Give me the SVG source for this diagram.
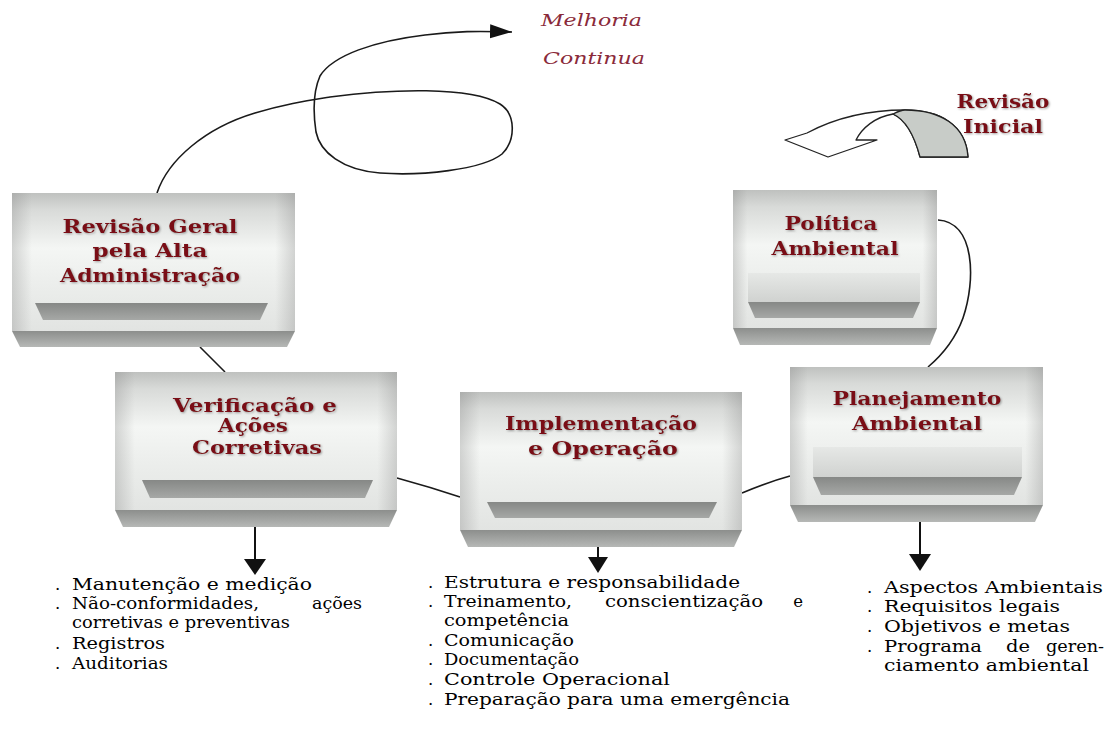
<svg xmlns="http://www.w3.org/2000/svg" width="1118" height="731" viewBox="0 0 1118 731">
<style>
.title{font-family:"DejaVu Serif","Liberation Serif",serif;font-weight:bold;font-size:19px;fill:#7a1014;text-anchor:middle;filter:url(#sh)}
.item{font-family:"DejaVu Serif","Liberation Serif",serif;font-size:16.5px;fill:#000}
.mc{font-family:"DejaVu Serif","Liberation Serif",serif;font-style:italic;font-size:16px;fill:#8a2a3a}
.box{fill:url(#gBox)}
.side{fill:url(#gSide)}
.shelf{fill:url(#gShelf)}
.slab{fill:url(#gSlab)}
.inner{fill:url(#gInner)}
.conn{fill:none;stroke:#1a1a1a;stroke-width:1.6}
.down{stroke:#111;stroke-width:2}
.head{fill:#111}
</style>
<defs>
<linearGradient id="gBox" x1="0" y1="0" x2="0" y2="1">
<stop offset="0" stop-color="#bfc1bf"/><stop offset="0.12" stop-color="#d8dad8"/><stop offset="0.4" stop-color="#f4f6f4"/><stop offset="0.65" stop-color="#eceeec"/><stop offset="1" stop-color="#e2e4e2"/>
</linearGradient>
<linearGradient id="gSide" x1="0" y1="0" x2="1" y2="0">
<stop offset="0" stop-color="#808080" stop-opacity="0.3"/><stop offset="0.07" stop-color="#808080" stop-opacity="0"/><stop offset="0.93" stop-color="#808080" stop-opacity="0"/><stop offset="1" stop-color="#808080" stop-opacity="0.3"/>
</linearGradient>
<linearGradient id="gShelf" x1="0" y1="0" x2="0" y2="1">
<stop offset="0" stop-color="#868886"/><stop offset="1" stop-color="#a6a8a6"/>
</linearGradient>
<linearGradient id="gSlab" x1="0" y1="0" x2="0" y2="1">
<stop offset="0" stop-color="#8c8e8c"/><stop offset="1" stop-color="#b6b8b6"/>
</linearGradient>
<linearGradient id="gInner" x1="0" y1="0" x2="0" y2="1">
<stop offset="0" stop-color="#e6e8e6"/><stop offset="1" stop-color="#d0d2d0"/>
</linearGradient>
<filter id="sh" x="-10%" y="-30%" width="120%" height="160%">
<feDropShadow dx="1" dy="1" stdDeviation="0.8" flood-color="#777" flood-opacity="0.7"/>
</filter>
<marker id="arr" markerWidth="24" markerHeight="16" refX="22" refY="8" orient="auto" markerUnits="userSpaceOnUse">
<path d="M0,1 L22,8 L0,15 Z" fill="#111"/>
</marker>
</defs>

<g id="connectors">
<path class="conn" marker-end="url(#arr)" d="M157,193 C168,160 205,128 255,113 C285,104 305,101 330,97 C390,89 470,86 500,104 C516,114 516,140 502,154 C482,170 420,176 380,173 C342,170 320,152 316,132 C313,112 313,92 320,76 C333,55 375,41 425,35 C455,31 478,31 512,32"/>
<path class="conn" d="M200,347 L225,372"/>
<path class="conn" d="M397,478 Q430,487 460,497"/>
<path class="conn" d="M742,493 Q768,482 790,476"/>
<path class="conn" d="M938,220 C975,222 976,280 963,318 C955,340 941,356 928,367"/>
<line class="down" x1="255" y1="527" x2="255" y2="561"/>
<polygon class="head" points="244,559 266,559 255,575"/>
<line class="down" x1="598" y1="547" x2="598" y2="560"/>
<polygon class="head" points="588,557 608,557 598,573"/>
<line class="down" x1="920" y1="522" x2="920" y2="556"/>
<polygon class="head" points="909,554 931,554 920,571"/>
</g>

<g id="revisao-inicial">
<path d="M968,157 C966,125 940,110 905,110 C870,110 835,118 807,133 L785,140 L828,157 L877,140 L856,140 C862,128 875,117 893,114 C906,120 915,138 920,157 Z" fill="#ffffff" stroke="#222" stroke-width="1.3" stroke-linejoin="round"/>
<path d="M905,110 C940,110 966,125 968,157 L920,157 C915,138 906,120 893,114 C897,112 901,110 905,110 Z" fill="#c8ccc8" stroke="#222" stroke-width="1.3" stroke-linejoin="round"/>
<text class="title" x="1003" y="108" textLength="93" lengthAdjust="spacingAndGlyphs">Revisão</text>
<text class="title" x="1003" y="133" textLength="80" lengthAdjust="spacingAndGlyphs">Inicial</text>
</g>

<g id="melhoria-continua">
<text class="mc" x="541" y="26" textLength="101" lengthAdjust="spacingAndGlyphs">Melhoria</text>
<text class="mc" x="543" y="64" textLength="102" lengthAdjust="spacingAndGlyphs">Continua</text>
</g>

<g id="revisao-geral">
<rect class="box" x="12" y="193" width="283" height="138"/>
<rect class="side" x="12" y="193" width="283" height="138"/>
<polygon class="shelf" points="35,303 268,303 260,320 43,320"/>
<polygon class="slab" points="12,331 295,331 287,347 20,347"/>
<text class="title" x="150" y="233" textLength="175" lengthAdjust="spacingAndGlyphs">Revisão Geral</text>
<text class="title" x="150" y="257" textLength="115" lengthAdjust="spacingAndGlyphs">pela Alta</text>
<text class="title" x="150" y="282" textLength="180" lengthAdjust="spacingAndGlyphs">Administração</text>
</g>

<g id="politica">
<rect class="box" x="733" y="190" width="204" height="138"/>
<rect class="side" x="733" y="190" width="204" height="138"/>
<rect class="inner" x="748" y="273" width="172" height="29"/>
<polygon class="shelf" points="748,302 920,302 913,318 755,318"/>
<polygon class="slab" points="733,328 937,328 930,345 740,345"/>
<text class="title" x="831" y="230" textLength="93" lengthAdjust="spacingAndGlyphs">Política</text>
<text class="title" x="835" y="255" textLength="127" lengthAdjust="spacingAndGlyphs">Ambiental</text>
</g>

<g id="verificacao">
<rect class="box" x="115" y="372" width="282" height="138"/>
<rect class="side" x="115" y="372" width="282" height="138"/>
<polygon class="shelf" points="142,480 373,480 365,498 150,498"/>
<polygon class="slab" points="115,510 397,510 389,527 123,527"/>
<text class="title" x="255" y="412" textLength="164" lengthAdjust="spacingAndGlyphs">Verificação e</text>
<text class="title" x="253" y="432" textLength="70" lengthAdjust="spacingAndGlyphs">Ações</text>
<text class="title" x="257" y="454" textLength="130" lengthAdjust="spacingAndGlyphs">Corretivas</text>
</g>

<g id="implementacao">
<rect class="box" x="460" y="392" width="282" height="138"/>
<rect class="side" x="460" y="392" width="282" height="138"/>
<polygon class="shelf" points="487,502 717,502 709,518 495,518"/>
<polygon class="slab" points="460,530 742,530 734,547 468,547"/>
<text class="title" x="601" y="430" textLength="192" lengthAdjust="spacingAndGlyphs">Implementação</text>
<text class="title" x="603" y="455" textLength="150" lengthAdjust="spacingAndGlyphs">e Operação</text>
</g>

<g id="planejamento">
<rect class="box" x="790" y="367" width="253" height="138"/>
<rect class="side" x="790" y="367" width="253" height="138"/>
<rect class="inner" x="813" y="447" width="209" height="30"/>
<polygon class="shelf" points="813,477 1022,477 1014,495 821,495"/>
<polygon class="slab" points="790,505 1043,505 1035,522 798,522"/>
<text class="title" x="917" y="405" textLength="169" lengthAdjust="spacingAndGlyphs">Planejamento</text>
<text class="title" x="917" y="430" textLength="130" lengthAdjust="spacingAndGlyphs">Ambiental</text>
</g>

<g id="lista-verificacao">
<text class="item" x="55" y="590">.</text>
<text class="item" x="72" y="590" textLength="240" lengthAdjust="spacingAndGlyphs">Manutenção e medição</text>
<text class="item" x="55" y="609">.</text>
<text class="item" x="72" y="609" textLength="187" lengthAdjust="spacingAndGlyphs">Não-conformidades,</text>
<text class="item" x="362" y="609" text-anchor="end" textLength="50" lengthAdjust="spacingAndGlyphs">ações</text>
<text class="item" x="72" y="628" textLength="218" lengthAdjust="spacingAndGlyphs">corretivas e preventivas</text>
<text class="item" x="55" y="649">.</text>
<text class="item" x="72" y="649" textLength="93" lengthAdjust="spacingAndGlyphs">Registros</text>
<text class="item" x="55" y="669">.</text>
<text class="item" x="72" y="669" textLength="96" lengthAdjust="spacingAndGlyphs">Auditorias</text>
</g>

<g id="lista-implementacao">
<text class="item" x="428" y="588">.</text>
<text class="item" x="444" y="588" textLength="296" lengthAdjust="spacingAndGlyphs">Estrutura e responsabilidade</text>
<text class="item" x="428" y="607">.</text>
<text class="item" x="444" y="607" textLength="128" lengthAdjust="spacingAndGlyphs">Treinamento,</text>
<text class="item" x="605" y="607" textLength="158" lengthAdjust="spacingAndGlyphs">conscientização</text>
<text class="item" x="803" y="607" text-anchor="end">e</text>
<text class="item" x="444" y="626" textLength="125" lengthAdjust="spacingAndGlyphs">competência</text>
<text class="item" x="428" y="646">.</text>
<text class="item" x="444" y="646" textLength="130" lengthAdjust="spacingAndGlyphs">Comunicação</text>
<text class="item" x="428" y="665">.</text>
<text class="item" x="444" y="665" textLength="135" lengthAdjust="spacingAndGlyphs">Documentação</text>
<text class="item" x="428" y="685">.</text>
<text class="item" x="444" y="685" textLength="226" lengthAdjust="spacingAndGlyphs">Controle Operacional</text>
<text class="item" x="428" y="705">.</text>
<text class="item" x="444" y="705" textLength="346" lengthAdjust="spacingAndGlyphs">Preparação para uma emergência</text>
</g>

<g id="lista-planejamento">
<text class="item" x="867" y="593">.</text>
<text class="item" x="884" y="593" textLength="219" lengthAdjust="spacingAndGlyphs">Aspectos Ambientais</text>
<text class="item" x="867" y="612">.</text>
<text class="item" x="884" y="612" textLength="176" lengthAdjust="spacingAndGlyphs">Requisitos legais</text>
<text class="item" x="867" y="632">.</text>
<text class="item" x="884" y="632" textLength="186" lengthAdjust="spacingAndGlyphs">Objetivos e metas</text>
<text class="item" x="867" y="652">.</text>
<text class="item" x="884" y="652" textLength="98" lengthAdjust="spacingAndGlyphs">Programa</text>
<text class="item" x="1006" y="652" textLength="24" lengthAdjust="spacingAndGlyphs">de</text>
<text class="item" x="1104" y="652" text-anchor="end" textLength="58" lengthAdjust="spacingAndGlyphs">geren-</text>
<text class="item" x="884" y="671" textLength="205" lengthAdjust="spacingAndGlyphs">ciamento ambiental</text>
</g>
</svg>
